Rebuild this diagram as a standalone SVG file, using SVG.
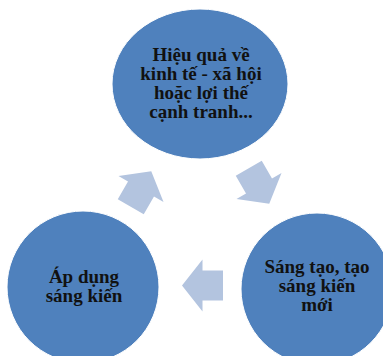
<svg xmlns="http://www.w3.org/2000/svg" width="383" height="356" viewBox="0 0 383 356">
<style>
.node{fill:#4f81bd;stroke:#ffffff;stroke-width:1}
.arrow{fill:#b3c4df}
.lbl{font-family:"Liberation Serif","Times New Roman",serif;font-weight:bold;font-size:19px;fill:#111111;text-anchor:middle}
</style>
<defs>
<polygon id="arr" points="-20.5,-15 0,-15 0,-26 20.5,0 0,26 0,15 -20.5,15"/>
</defs>
<rect width="383" height="356" fill="#ffffff"/>
<g id="connectors">
<use href="#arr" class="arrow" transform="translate(259,186) rotate(60)"/>
<use href="#arr" class="arrow" transform="translate(202.5,285.5) rotate(180)"/>
<use href="#arr" class="arrow" transform="translate(141,189) rotate(-60)"/>
</g>
<g id="node-top">
<ellipse class="node" cx="200" cy="84" rx="88" ry="75"/>
<text class="lbl" x="201" y="61">Hiệu quả về</text>
<text class="lbl" x="201" y="80">kinh tế - xã hội</text>
<text class="lbl" x="201" y="99">hoặc lợi thế</text>
<text class="lbl" x="201" y="118">cạnh tranh...</text>
</g>
<g id="node-right">
<ellipse class="node" cx="317" cy="289" rx="76" ry="76"/>
<text class="lbl" x="317" y="273">Sáng tạo, tạo</text>
<text class="lbl" x="317" y="292">sáng kiến</text>
<text class="lbl" x="317" y="311">mới</text>
</g>
<g id="node-left">
<ellipse class="node" cx="83" cy="287" rx="76" ry="76"/>
<text class="lbl" x="84" y="283">Áp dụng</text>
<text class="lbl" x="84" y="302">sáng kiến</text>
</g>
</svg>
